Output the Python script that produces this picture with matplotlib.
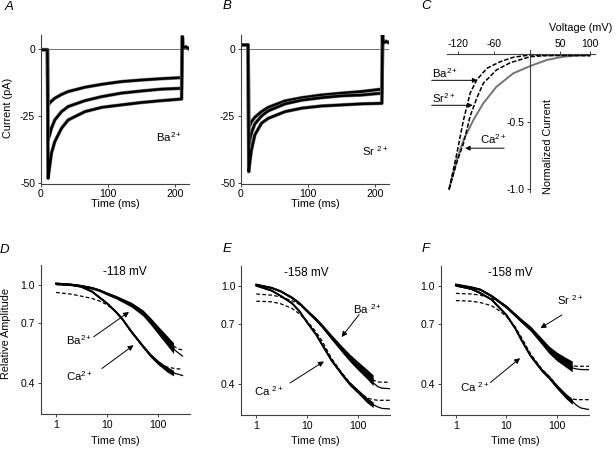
import matplotlib
matplotlib.use('Agg')
import matplotlib.pyplot as plt
from matplotlib.ticker import NullLocator

plt.rcParams['font.family'] = ['Liberation Sans', 'DejaVu Sans']
plt.rcParams['mathtext.fontset'] = 'custom'
plt.rcParams['mathtext.rm'] = 'Liberation Sans'
plt.rcParams['mathtext.it'] = 'Liberation Sans:italic'
plt.rcParams['mathtext.bf'] = 'Liberation Sans:bold'
plt.rcParams['mathtext.default'] = 'rm'
plt.rcParams['axes.unicode_minus'] = False

# ---------------- data: panel A (Ba2+ currents, pA) ----------------
A_pre_t = [0, 10]
A_pre_i = [-0.3, -0.3]
A_t = [11, 14, 16, 21, 31, 41, 66, 91, 120, 150, 180, 210]
A_top = [-21, -20, -19.5, -18.4, -17, -15.9, -14.3, -13.2, -12.2, -11.6, -11.1, -10.7]
A_mid = [-34, -31.5, -29.6, -26.5, -23.4, -21.5, -19.3, -17.8, -16.5, -15.7, -15, -14.7]
A_bot = [-48.3, -42.7, -38.9, -34.6, -29.6, -26.5, -23.4, -21.8, -20.9, -20, -19.3, -18.7]
A_post_t = [211, 212, 216, 220]
A_post_i = [4.6, 0.4, 0.8, 0.2]

# ---------------- data: panel B (Sr2+ currents, pA) ----------------
B_pre_t = [0, 11]
B_pre_i = [1.5, 1.5]
B_t = [12, 14, 16, 21, 31, 41, 66, 91, 120, 150, 180, 210]
B_top = [-29.6, -28.3, -27.2, -25.5, -23.4, -21.8, -19.4, -18.2, -17.2, -16.5, -15.9, -15]
B_mid = [-37, -33.5, -31.3, -28, -25, -23.1, -20.5, -19.1, -18.2, -17.5, -17.2, -16.5]
B_bot = [-45.8, -41.5, -37.7, -32.1, -27.7, -25.9, -23.4, -22.1, -21.3, -20.9, -20.5, -20.3]
B_post_t = [211, 212, 216, 220]
B_post_i = [5.2, 2.2, 2.8, 2.4]

# ---------------- data: panel C (normalized I-V) ----------------
C_V_ba = [-135, -122, -111, -100, -89, -72, -50, -28, 0, 30, 60, 100]
C_I_ba = [-1.0, -0.733, -0.487, -0.289, -0.19, -0.104, -0.055, -0.022, -0.005, -0.01, -0.008, -0.01]
C_V_sr = [-135, -122, -111, -100, -89, -78, -56, -33, 0, 30, 60, 100]
C_I_sr = [-1.0, -0.8, -0.66, -0.46, -0.326, -0.215, -0.116, -0.062, -0.018, -0.008, -0.008, -0.01]
C_V_ca = [-135, -122, -111, -94.5, -78, -56, -28, 0, 28, 55, 88, 100]
C_I_ca = [-1.0, -0.78, -0.635, -0.487, -0.363, -0.24, -0.141, -0.087, -0.042, -0.018, -0.005, -0.005]

# ---------------- data: panels D-F (relative amplitude) ----------------
t_data = [1, 2, 3, 5, 7, 10, 15, 20, 30, 50, 70, 100, 150, 200]

D_t_fit = [1, 2, 3, 5, 7, 10, 15, 20, 30, 50, 70, 100, 150, 200, 250, 300]
D_ba = [1.01, 1.0, 0.99, 0.97, 0.95, 0.92, 0.89, 0.865, 0.83, 0.77, 0.715, 0.655, 0.595, 0.555]
D_ba_noise = [0.01, 0.01, 0.012, 0.012, 0.012, 0.014, 0.016, 0.018, 0.022, 0.028, 0.032, 0.038, 0.045, 0.05]
D_ba_solid = [1.01, 1.0, 0.99, 0.97, 0.95, 0.92, 0.89, 0.865, 0.83, 0.77, 0.715, 0.655, 0.59, 0.55, 0.53, 0.515]
D_ba_dash = [1.0, 0.995, 0.985, 0.97, 0.95, 0.92, 0.89, 0.865, 0.83, 0.77, 0.715, 0.655, 0.6, 0.565, 0.55, 0.545]
D_ca = [1.01, 1.0, 0.985, 0.94, 0.89, 0.84, 0.775, 0.725, 0.645, 0.565, 0.52, 0.485, 0.455, 0.44]
D_ca_noise = [0.008, 0.008, 0.008, 0.01, 0.01, 0.01, 0.012, 0.012, 0.014, 0.016, 0.018, 0.02, 0.024, 0.026]
D_ca_solid = [1.01, 1.0, 0.985, 0.94, 0.89, 0.84, 0.775, 0.725, 0.645, 0.565, 0.52, 0.485, 0.455, 0.44, 0.435, 0.43]
D_ca_dash = [0.93, 0.915, 0.9, 0.88, 0.86, 0.83, 0.775, 0.725, 0.645, 0.565, 0.52, 0.485, 0.465, 0.46, 0.457, 0.457]

EF_t_fit = [1, 2, 3, 5, 7, 10, 15, 20, 30, 50, 70, 100, 150, 200, 250, 300, 450]
E_ba = [1.01, 0.98, 0.95, 0.895, 0.85, 0.79, 0.73, 0.685, 0.62, 0.55, 0.51, 0.475, 0.44, 0.415]
E_ba_noise = [0.008, 0.008, 0.01, 0.012, 0.014, 0.016, 0.018, 0.02, 0.024, 0.03, 0.035, 0.04, 0.045, 0.05]
E_ba_solid = [1.01, 0.98, 0.95, 0.895, 0.85, 0.79, 0.73, 0.685, 0.62, 0.55, 0.51, 0.47, 0.43, 0.405, 0.39, 0.385, 0.383]
E_ba_dash = [0.925, 0.915, 0.9, 0.87, 0.84, 0.79, 0.73, 0.685, 0.62, 0.55, 0.51, 0.475, 0.43, 0.415, 0.408, 0.407, 0.407]
E_ca = [1.0, 0.955, 0.91, 0.85, 0.79, 0.71, 0.635, 0.575, 0.5, 0.435, 0.4, 0.374, 0.345, 0.33]
E_ca_noise = [0.006, 0.006, 0.008, 0.008, 0.01, 0.01, 0.012, 0.012, 0.014, 0.016, 0.018, 0.02, 0.024, 0.026]
E_ca_solid = [1.0, 0.955, 0.91, 0.85, 0.79, 0.71, 0.635, 0.575, 0.5, 0.435, 0.4, 0.374, 0.345, 0.33, 0.323, 0.319, 0.317]
E_ca_dash = [0.865, 0.86, 0.845, 0.81, 0.77, 0.72, 0.65, 0.595, 0.51, 0.44, 0.405, 0.375, 0.352, 0.346, 0.344, 0.344, 0.344]

F_sr = [1.01, 0.985, 0.965, 0.91, 0.865, 0.82, 0.76, 0.72, 0.67, 0.595, 0.55, 0.517, 0.49, 0.472]
F_sr_noise = [0.008, 0.008, 0.01, 0.012, 0.014, 0.016, 0.018, 0.02, 0.024, 0.03, 0.035, 0.04, 0.045, 0.05]
F_sr_solid = [1.01, 0.985, 0.965, 0.91, 0.865, 0.82, 0.76, 0.72, 0.67, 0.595, 0.55, 0.515, 0.485, 0.465, 0.46, 0.458, 0.457]
F_sr_dash = [0.93, 0.925, 0.915, 0.89, 0.86, 0.82, 0.76, 0.72, 0.67, 0.595, 0.55, 0.517, 0.49, 0.475, 0.472, 0.472, 0.472]
F_ca = [1.0, 0.97, 0.935, 0.88, 0.82, 0.76, 0.67, 0.6, 0.52, 0.455, 0.425, 0.39, 0.358, 0.34]
F_ca_noise = [0.006, 0.006, 0.008, 0.008, 0.01, 0.01, 0.012, 0.012, 0.014, 0.016, 0.018, 0.02, 0.024, 0.026]
F_ca_solid = [1.0, 0.97, 0.935, 0.88, 0.82, 0.76, 0.67, 0.6, 0.52, 0.455, 0.425, 0.39, 0.358, 0.34, 0.327, 0.32, 0.315]
F_ca_dash = [0.87, 0.865, 0.855, 0.83, 0.795, 0.75, 0.68, 0.615, 0.53, 0.46, 0.43, 0.395, 0.36, 0.348, 0.346, 0.346, 0.346]

W, H = 616, 449
fig = plt.figure(figsize=(W / 100, H / 100), dpi=100)
fig.patch.set_facecolor('white')


def axpx(l, t, r, b):
    return fig.add_axes([l / W, 1 - b / H, (r - l) / W, (b - t) / H])


def ftext(x, y, s, **kw):
    kw.setdefault('ha', 'center')
    kw.setdefault('va', 'center')
    fig.text(x / W, 1 - y / H, s, **kw)


def base_style(ax):
    for s in ['top', 'right']:
        ax.spines[s].set_visible(False)
    for s in ['left', 'bottom']:
        ax.spines[s].set_linewidth(0.8)
        ax.spines[s].set_color('0.25')
    ax.tick_params(direction='out', length=2.5, width=0.7, labelsize=7.5,
                   pad=1.5, color='0.25')


def trace(ax, pre_t, pre_i, t, i, post_t, post_i):
    x = pre_t + t + post_t
    y = pre_i + i + post_i
    ax.plot(x, y, color='0.5', lw=2.6, solid_joinstyle='round')
    ax.plot(x, y, color='k', lw=1.8, solid_joinstyle='round')


LBL = 8.2

# ---------------- A ----------------
axA = axpx(40.7, 35, 189, 183.7)
base_style(axA)
axA.set_xlim(0, 221)
axA.set_ylim(-50.3, 5.2)
axA.axhline(0, color='0.45', lw=0.7, zorder=0)
for yv in (A_top, A_mid, A_bot):
    trace(axA, A_pre_t, A_pre_i, A_t, yv, A_post_t, A_post_i)
axA.set_xticks([0, 100, 200])
axA.set_xticklabels(['0', '100', '200'])
axA.set_yticks([0, -25, -50])
axA.set_yticklabels(['0', '-25', '-50'])
axA.text(172, -33, r'Ba$^{2+}$', fontsize=LBL, ha='left', va='center')
ftext(8.5, 107.5, 'Current (pA)', rotation=90, fontsize=7.8)
ftext(114.9, 204, 'Time (ms)', fontsize=7.8)

# ---------------- B ----------------
axB = axpx(240.7, 35, 389.3, 183.7)
base_style(axB)
axB.set_xlim(0, 221)
axB.set_ylim(-50.3, 5.2)
axB.axhline(0, color='0.45', lw=0.7, zorder=0)
for yv in (B_top, B_mid, B_bot):
    trace(axB, B_pre_t, B_pre_i, B_t, yv, B_post_t, B_post_i)
axB.set_xticks([0, 100, 200])
axB.set_xticklabels(['0', '100', '200'])
axB.set_yticks([0, -25, -50])
axB.set_yticklabels(['0', '-25', '-50'])
axB.text(181, -38.3, r'Sr $^{2+}$', fontsize=LBL, ha='left', va='center')
ftext(315, 204, 'Time (ms)', fontsize=7.8)

# ---------------- C ----------------
axC = axpx(446.7, 50.25, 594.9, 191.9)
axC.set_xlim(-139, 108)
axC.set_ylim(-1.02, 0.03)
axC.spines['right'].set_visible(False)
axC.spines['bottom'].set_visible(False)
axC.spines['left'].set_position(('data', 0))
axC.spines['top'].set_position(('data', 0))
for s in ['left', 'top']:
    axC.spines[s].set_linewidth(0.8)
    axC.spines[s].set_color('0.25')
axC.xaxis.set_ticks_position('top')
axC.yaxis.set_ticks_position('left')
axC.tick_params(direction='out', length=2.5, width=0.7, labelsize=7.5, pad=1.5, color='0.25')
axC.set_xticks([-120, -60, 50, 100])
axC.set_xticklabels(['-120', '-60', '50', '100'])
axC.set_yticks([-0.5, -1.0])
axC.set_yticklabels(['-0.5', '-1.0'])
axC.plot(C_V_ca, C_I_ca, color='0.45', lw=1.4)
axC.plot(C_V_sr, C_I_sr, color='k', lw=1.1, ls=(0, (3, 1.2)))
axC.plot(C_V_ba, C_I_ba, color='k', lw=1.1, ls=(0, (3, 1.2)))
arrow_kw = dict(arrowstyle='-|>', lw=0.7, color='k', mutation_scale=7, shrinkA=0, shrinkB=0)
axC.annotate('', xy=(-88, -0.193), xytext=(-164, -0.193), arrowprops=arrow_kw, annotation_clip=False)
axC.annotate('', xy=(-95.5, -0.378), xytext=(-164, -0.378), arrowprops=arrow_kw, annotation_clip=False)
axC.annotate('', xy=(-108.3, -0.696), xytext=(-43.3, -0.696), arrowprops=arrow_kw, annotation_clip=False)
axC.text(-163, -0.141, r'Ba$^{2+}$', fontsize=LBL, ha='left', va='center', clip_on=False)
axC.text(-163, -0.324, r'Sr$^{2+}$', fontsize=LBL, ha='left', va='center', clip_on=False)
axC.text(-83.3, -0.625, r'Ca$^{2+}$', fontsize=LBL, ha='left', va='center')
ftext(581, 28, 'Voltage (mV)', fontsize=7.8)
ftext(548, 146, 'Normalized Current', rotation=90, fontsize=7.8)


# ---------------- D-F ----------------
def amp_style(ax):
    base_style(ax)
    ax.set_xscale('log')
    ax.set_yscale('log')
    ax.set_xlim(0.5, 420)
    ax.set_ylim(0.30, 1.2)
    ax.set_xticks([1, 10, 100])
    ax.set_xticklabels(['1', '10', '100'])
    ax.set_yticks([0.4, 0.7, 1.0])
    ax.set_yticklabels(['0.4', '0.7', '1.0'])
    ax.xaxis.set_minor_locator(NullLocator())
    ax.yaxis.set_minor_locator(NullLocator())


def amp_curve(ax, v, noise, t_fit, solid, dash):
    lo = [a * (1 - n) for a, n in zip(v, noise)]
    hi = [a * (1 + n) for a, n in zip(v, noise)]
    ax.fill_between(t_data, lo, hi, color='k', lw=0)
    ax.plot(t_data, v, color='k', lw=1.4)
    ax.plot(t_fit, solid, color='k', lw=0.9)
    ax.plot(t_fit, dash, color='k', lw=0.9, ls=(0, (3, 1.8)))


arr2 = dict(arrowstyle='-|>', lw=0.7, color='k', mutation_scale=8, shrinkA=0, shrinkB=0)

axD = axpx(40.7, 265, 190, 414.3)
amp_style(axD)
amp_curve(axD, D_ba, D_ba_noise, D_t_fit, D_ba_solid, D_ba_dash)
amp_curve(axD, D_ca, D_ca_noise, D_t_fit, D_ca_solid, D_ca_dash)
axD.annotate('', xy=(26.8, 0.776), xytext=(5.45, 0.616), arrowprops=arr2)
axD.annotate('', xy=(33, 0.57), xytext=(7.9, 0.459), arrowprops=arr2)
axD.text(1.56, 0.597, r'Ba$^{2+}$', fontsize=LBL, ha='left', va='center')
axD.text(1.56, 0.428, r'Ca$^{2+}$', fontsize=LBL, ha='left', va='center')
ftext(125, 271.7, '-118 mV', fontsize=8.5)
ftext(6, 333.5, 'Relative Amplitude', rotation=90, fontsize=7.8)
ftext(115, 441, 'Time (ms)', fontsize=7.8)

axE = axpx(241, 266, 389.5, 415)
amp_style(axE)
amp_curve(axE, E_ba, E_ba_noise, EF_t_fit, E_ba_solid, E_ba_dash)
amp_curve(axE, E_ca, E_ca_noise, EF_t_fit, E_ca_solid, E_ca_dash)
axE.annotate('', xy=(47.9, 0.62), xytext=(106, 0.764), arrowprops=arr2)
axE.annotate('', xy=(21.5, 0.494), xytext=(4.6, 0.404), arrowprops=arr2)
axE.text(79, 0.807, r'Ba $^{2+}$', fontsize=LBL, ha='left', va='center')
axE.text(0.92, 0.375, r'Ca $^{2+}$', fontsize=LBL, ha='left', va='center')
ftext(306, 273.3, '-158 mV', fontsize=8.5)
ftext(315, 441, 'Time (ms)', fontsize=7.8)

axF = axpx(440.7, 266, 588.5, 415)
amp_style(axF)
amp_curve(axF, F_sr, F_sr_noise, EF_t_fit, F_sr_solid, F_sr_dash)
amp_curve(axF, F_ca, F_ca_noise, EF_t_fit, F_ca_solid, F_ca_dash)
axF.annotate('', xy=(47, 0.673), xytext=(125, 0.761), arrowprops=arr2)
axF.annotate('', xy=(18.6, 0.509), xytext=(4.8, 0.406), arrowprops=arr2)
axF.text(100, 0.871, r'Sr $^{2+}$', fontsize=LBL, ha='left', va='center')
axF.text(1.22, 0.388, r'Ca $^{2+}$', fontsize=LBL, ha='left', va='center')
ftext(510, 273.3, '-158 mV', fontsize=8.5)
ftext(515, 441, 'Time (ms)', fontsize=7.8)

# panel letters
for lx, ly, s in [(9.5, 6.5, 'A'), (226.7, 6, 'B'), (426, 6, 'C'),
                  (4.7, 250, 'D'), (226.7, 249.5, 'E'), (426, 249.5, 'F')]:
    ftext(lx, ly, s, fontsize=9.5, style='italic')

fig.savefig('out.png', dpi=100, facecolor='white')
